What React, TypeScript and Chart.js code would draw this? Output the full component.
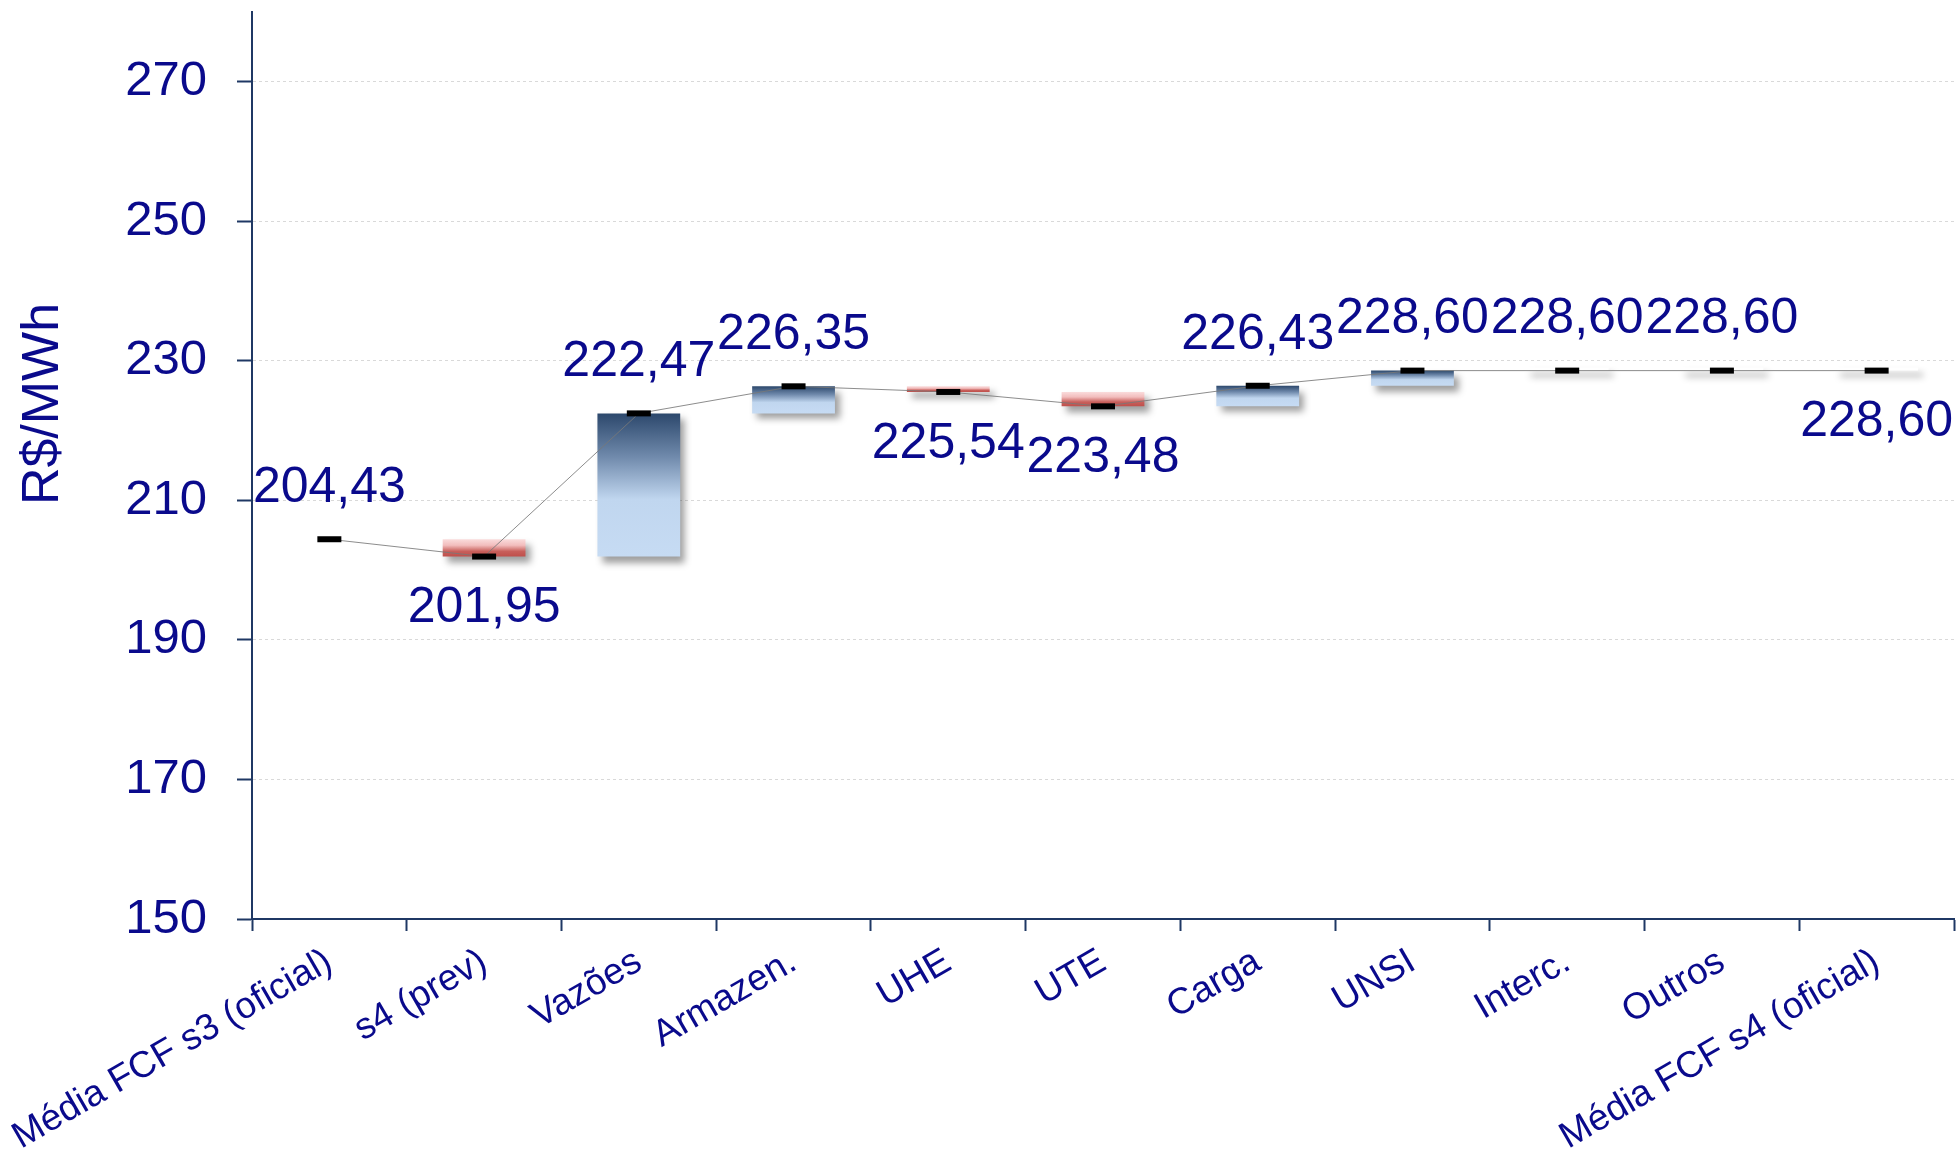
import React, { useEffect, useRef } from 'react';
import { Chart, registerables } from 'chart.js';

Chart.register(...registerables);

const categories = [
  'Média FCF s3 (oficial)',
  's4 (prev)',
  'Vazões',
  'Armazen.',
  'UHE',
  'UTE',
  'Carga',
  'UNSI',
  'Interc.',
  'Outros',
  'Média FCF s4 (oficial)',
];
const levels = [204.43, 201.95, 222.47, 226.35, 225.54, 223.48, 226.43, 228.6, 228.6, 228.6, 228.6];
const isTotal = [true, false, false, false, false, false, false, false, false, false, true];
const yTicks = [150, 170, 190, 210, 230, 250, 270];
const yMin = 150;
const yMax = 280;
const yTitle = 'R$/MWh';

const NAVY = '#0a0a8c';
const AXIS = '#1f3864';
const FONT = "'Liberation Sans', Arial, sans-serif";

const fmt = (v: number) => v.toFixed(2).replace('.', ',');

function barColor(c: any) {
  const raw = c.raw;
  if (!raw || !Array.isArray(raw)) return 'rgba(0,0,0,0)';
  const chart = c.chart;
  const y = chart.scales && chart.scales.y;
  const [a, b] = raw;
  if (a === b) return '#ffffff';
  if (!y) return b > a ? '#8aa5c5' : '#d87a78';
  const top = y.getPixelForValue(Math.max(a, b));
  const bot = y.getPixelForValue(Math.min(a, b));
  const g = chart.ctx.createLinearGradient(0, top, 0, Math.max(bot, top + 1));
  if (b > a) {
    g.addColorStop(0, '#2c486c');
    g.addColorStop(0.3, '#6f89ab');
    g.addColorStop(0.6, '#c0d6ef');
    g.addColorStop(1, '#c6dbf3');
  } else {
    g.addColorStop(0, '#fadcdc');
    g.addColorStop(0.35, '#f2bdbd');
    g.addColorStop(0.7, '#c85f5b');
    g.addColorStop(1, '#bf4f4b');
  }
  return g;
}

const shadowPlugin = {
  id: 'barShadow',
  beforeDatasetDraw(chart: any, args: any) {
    if (chart.data.datasets[args.index].type !== 'bar') return;
    const ctx = chart.ctx;
    ctx.save();
    ctx.shadowColor = 'rgba(0,0,0,0.38)';
    ctx.shadowBlur = 7;
    ctx.shadowOffsetX = 5;
    ctx.shadowOffsetY = 6;
  },
  afterDatasetDraw(chart: any, args: any) {
    if (chart.data.datasets[args.index].type !== 'bar') return;
    chart.ctx.restore();
  },
};

const labelPlugin = {
  id: 'valueLabels',
  afterDatasetsDraw(chart: any) {
    const ctx = chart.ctx;
    const meta = chart.getDatasetMeta(0);
    ctx.save();
    ctx.font = `50px ${FONT}`;
    ctx.fillStyle = NAVY;
    ctx.textAlign = 'center';
    ctx.textBaseline = 'middle';
    meta.data.forEach((pt: any, i: number) => {
      const delta = i === 0 ? 0 : levels[i] - levels[i - 1];
      const below = delta < 0 || (isTotal[i] && i > 0);
      ctx.fillText(fmt(levels[i]), pt.x, pt.y + (below ? 52 : -51));
    });
    ctx.restore();

    ctx.save();
    ctx.font = `52px ${FONT}`;
    ctx.fillStyle = NAVY;
    ctx.textAlign = 'center';
    ctx.textBaseline = 'middle';
    ctx.translate(44, 404);
    ctx.rotate(-Math.PI / 2);
    ctx.fillText(yTitle, 0, 0);
    ctx.restore();
  },
};

export default function App() {
  const canvasRef = useRef<HTMLCanvasElement | null>(null);

  useEffect(() => {
    const canvas = canvasRef.current;
    if (!canvas) return;
    const barData = levels.map((v, i) => (i === 0 ? null : [levels[i - 1], v]));
    const chart = new Chart(canvas, {
      type: 'bar',
      data: {
        labels: categories,
        datasets: [
          {
            type: 'line',
            data: levels,
            borderColor: 'rgba(120,120,120,0.85)',
            borderWidth: 1,
            pointStyle: 'line',
            pointRadius: 12,
            pointHoverRadius: 12,
            pointBorderWidth: 6,
            pointBorderColor: '#000000',
            pointBackgroundColor: '#000000',
            tension: 0,
            fill: false,
            clip: false,
            order: 0,
          } as any,
          {
            type: 'bar',
            data: barData as any,
            backgroundColor: barColor as any,
            borderWidth: 0,
            barPercentage: 0.535,
            categoryPercentage: 1,
            minBarLength: 3,
            order: 1,
          } as any,
        ],
      },
      options: {
        responsive: false,
        animation: false,
        layout: { autoPadding: false, padding: { left: 0, right: 5, top: 12, bottom: 0 } },
        plugins: {
          legend: { display: false },
          tooltip: { enabled: false },
          title: { display: false },
        },
        scales: {
          x: {
            offset: true,
            grid: {
              offset: true,
              drawOnChartArea: false,
              drawTicks: true,
              tickLength: 12,
              tickColor: AXIS,
              tickWidth: 2,
            },
            border: { display: true, color: AXIS, width: 2 },
            ticks: {
              autoSkip: false,
              maxRotation: 30,
              minRotation: 30,
              padding: 9,
              color: NAVY,
              font: { family: FONT, size: 37 },
            },
            afterFit: (s: any) => {
              s.height = 243;
              s.paddingLeft = 0;
              s.paddingRight = 0;
            },
          },
          y: {
            min: yMin,
            max: yMax,
            afterBuildTicks: (axis: any) => {
              axis.ticks = yTicks.map((v) => ({ value: v }));
            },
            grid: {
              color: '#d9d9d9',
              lineWidth: 1,
              tickLength: 15,
              tickColor: AXIS,
              tickWidth: 2,
              tickBorderDash: [],
            },
            border: { display: true, color: AXIS, width: 2, dash: [3, 3] },
            ticks: {
              padding: 30,
              color: NAVY,
              font: { family: FONT, size: 49 },
            },
            afterFit: (s: any) => {
              s.width = 252;
              s.paddingTop = 0;
              s.paddingBottom = 0;
            },
          },
        },
      },
      plugins: [shadowPlugin, labelPlugin],
    } as any);
    return () => chart.destroy();
  }, []);

  return (
    <div style={{ position: 'absolute', left: 0, top: 0, width: 1959, height: 1162, background: '#ffffff' }}>
      <canvas ref={canvasRef} width={1959} height={1162} style={{ display: 'block' }} />
    </div>
  );
}
